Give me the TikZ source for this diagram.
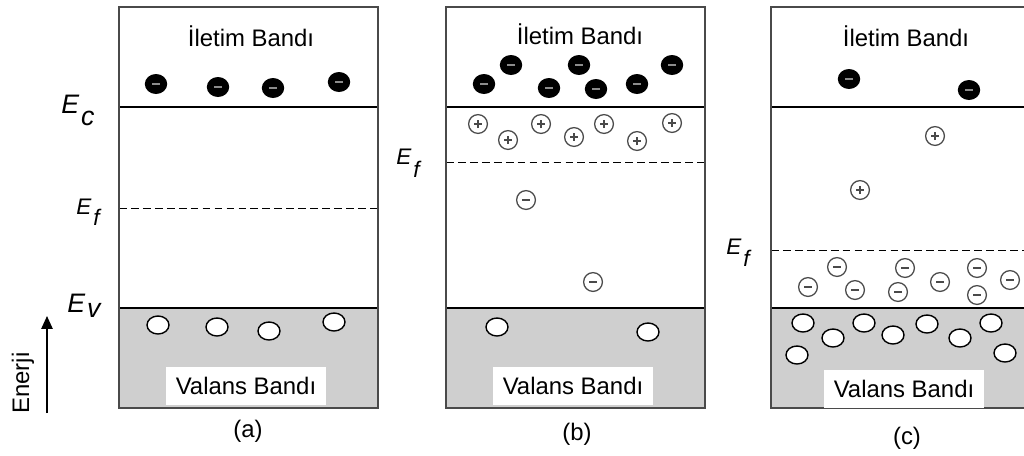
\documentclass[tikz,border=0pt]{standalone}
\usepackage{fontspec}
\setmainfont{Liberation Sans}
\usepackage{xcolor}
\usetikzlibrary{arrows.meta,shapes.geometric}
\definecolor{bandfill}{HTML}{CFCFCF}
\definecolor{edge}{HTML}{4A4A4A}
\tikzset{
  bandtxt/.style={font=\fontsize{17}{20}\selectfont,inner sep=1pt},
  vallbl/.style={bandtxt,fill=white,minimum width=4cm,minimum height=0.93cm},
  lvl/.style={anchor=base west,inner sep=0pt,font=\itshape},
  % charge carriers and ions
  elec/.style={ellipse,fill=black,inner sep=0pt,minimum width=0.56cm,minimum height=0.5cm,
    path picture={\draw[black!45,line width=0.9pt]
      ([xshift=-0.1cm]path picture bounding box.center) -- ([xshift=0.1cm]path picture bounding box.center);}},
  hole/.style={ellipse,draw=black,fill=white,line width=1pt,inner sep=0pt,
    minimum width=0.55cm,minimum height=0.45cm},
  ion/.style={circle,draw=edge,fill=white,line width=0.9pt,inner sep=0pt,minimum size=0.47cm},
  ionp/.style={ion,path picture={\draw[line width=0.85pt]
      ([xshift=-0.1cm]path picture bounding box.center) -- ([xshift=0.1cm]path picture bounding box.center)
      ([yshift=-0.1cm]path picture bounding box.center) -- ([yshift=0.1cm]path picture bounding box.center);}},
  ionm/.style={ion,path picture={\draw[line width=0.9pt]
      ([xshift=-0.1cm]path picture bounding box.center) -- ([xshift=0.1cm]path picture bounding box.center);}},
  ionmb/.style={ion,path picture={\draw[line width=1.8pt]
      ([xshift=-0.1cm]path picture bounding box.center) -- ([xshift=0.1cm]path picture bounding box.center);}},
}
\begin{document}
\begin{tikzpicture}[x=0.025cm,y=-0.025cm]
  \useasboundingbox (0,0) rectangle (1024,455);
  \clip (0,0) rectangle (1024,455);

  % three band diagrams: left edge / Fermi level
  \foreach \px/\ef in {119/208,446/162,771/250}{
    \fill[bandfill] (\px,308) rectangle (\px+259,408);
    \draw[black,line width=0.9pt] (\px,107) -- (\px+259,107);
    \draw[black,line width=0.9pt] (\px,308) -- (\px+259,308);
    \draw[black,line width=0.6pt,dash pattern=on 5.5pt off 3pt] (\px,\ef) -- (\px+259,\ef);
    \draw[edge,line width=1.3pt] (\px,7) rectangle (\px+259,408);
  }

  % band names
  \node[bandtxt] (ca) at (251,36) {İletim Bandı};
  \node[bandtxt] (cb) at (580,34) {İletim Bandı};
  \node[bandtxt] (cc) at (906,36) {İletim Bandı};
  \node[vallbl] (va) at (246,386) {Valans Bandı};
  \node[vallbl] (vb) at (573,386) {Valans Bandı};
  \node[vallbl] (vc) at (904,389) {Valans Bandı};
  \node[bandtxt] (la) at (248,431) {(a)};
  \node[bandtxt] (lb) at (577,434) {(b)};
  \node[bandtxt] (lc) at (907,438) {(c)};

  % energy levels
  \node[lvl,font=\fontsize{19}{22}\selectfont\itshape] (Ec) at (61,113) {E\kern1.5pt\raisebox{-0.45em}{c}};
  \node[lvl,font=\fontsize{16}{19}\selectfont\itshape] (Efa) at (76,214) {E\kern1.5pt\raisebox{-0.5em}{f}};
  \node[lvl,font=\fontsize{19}{22}\selectfont\itshape] (Ev) at (67,312) {E\kern1.5pt\raisebox{-0.22em}{v}};
  \node[lvl,font=\fontsize{16}{19}\selectfont\itshape] (Efb) at (396,164) {E\kern1.5pt\raisebox{-0.62em}{f}};
  \node[lvl,font=\fontsize{16}{19}\selectfont\itshape] (Efc) at (726,254) {E\kern1.5pt\raisebox{-0.55em}{f}};

  % energy axis
  \coordinate (en0) at (47,413);
  \coordinate (en1) at (47,316);
  \draw[black,line width=1.2pt,-{Triangle[length=0.32cm,width=0.28cm]}] (en0) -- (en1);
  \node[bandtxt,rotate=90] (enerji) at (23,383) {Enerji};

  % electrons in the conduction band
  \foreach \x/\y [count=\i] in {156/84,218/87,273/88,339/82,
      484/84,511/65,549/88,579/65,596/89,637/84,672/65,849/79,969/90}
    \node[elec] (e\i) at (\x,\y) {};

  % holes in the valence band
  \foreach \x/\y [count=\i] in {158/325,217/327,269/331,334/322,497/327,648/332,
      803/323,833/338,864/323,893/335,927/324,960/338,991/323,797/355,1005/353}
    \node[hole] (h\i) at (\x,\y) {};

  % ionised donors
  \foreach \x/\y [count=\i] in {478/124,508/140,541/124,574/137,604/124,637/141,672/123,
      935/136,860/190}
    \node[ionp] (d\i) at (\x,\y) {};

  % ionised acceptors
  \foreach \x/\y [count=\i] in {526/200,593/282,808/287,837/267,855/290,898/292,
      940/282,977/268,977/295,1010/280}
    \node[ionm] (a\i) at (\x,\y) {};
  \node[ionmb] (a0) at (905,268) {};
\end{tikzpicture}
\end{document}
